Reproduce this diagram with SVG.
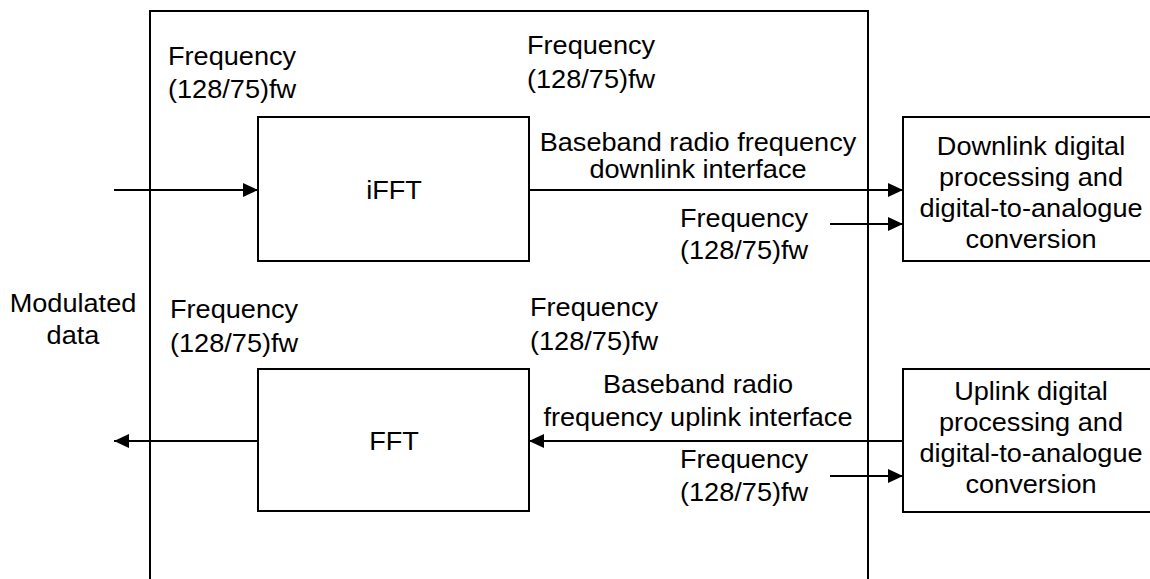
<svg xmlns="http://www.w3.org/2000/svg" width="1150" height="579" viewBox="0 0 1150 579">
<style>
.box{fill:#fff;stroke:#000;stroke-width:2}
.ln{fill:none;stroke:#000;stroke-width:2}
.t{font-family:"Liberation Sans",Arial,sans-serif;font-size:25px;fill:#000}
.m{text-anchor:middle}
</style>
<defs>
<marker id="ah" markerWidth="15" markerHeight="14" refX="15" refY="7" orient="auto" markerUnits="userSpaceOnUse">
<path d="M0,0 L15,7 L0,14 Z" fill="#000"/>
</marker>
</defs>
<rect width="1150" height="579" fill="#fff"/>
<g id="frame">
<path class="ln" d="M150,579 V11 H868 V579"/>
</g>
<g id="connectors">
<line class="ln" x1="114" y1="190" x2="258" y2="190" marker-end="url(#ah)"/>
<line class="ln" x1="529" y1="190" x2="903" y2="190" marker-end="url(#ah)"/>
<line class="ln" x1="830" y1="224" x2="903" y2="224" marker-end="url(#ah)"/>
<line class="ln" x1="903" y1="441" x2="529" y2="441" marker-end="url(#ah)"/>
<line class="ln" x1="830" y1="476" x2="903" y2="476" marker-end="url(#ah)"/>
<line class="ln" x1="258" y1="441" x2="114" y2="441" marker-end="url(#ah)"/>
</g>
<g id="ifft">
<rect class="box" x="258" y="117" width="271" height="144"/>
<text class="t m" transform="translate(394,199) scale(1.085,1)">iFFT</text>
</g>
<g id="fft">
<rect class="box" x="258" y="369" width="271" height="142"/>
<text class="t m" transform="translate(394,450) scale(1.085,1)">FFT</text>
</g>
<g id="downlink">
<rect class="box" x="903" y="117" width="260" height="144"/>
<text class="t m" transform="translate(1031,155) scale(1.085,1)"><tspan x="0" y="0">Downlink digital</tspan><tspan x="0" y="31">processing and</tspan><tspan x="0" y="62">digital-to-analogue</tspan><tspan x="0" y="93">conversion</tspan></text>
</g>
<g id="uplink">
<rect class="box" x="903" y="369" width="260" height="143"/>
<text class="t m" transform="translate(1031,400) scale(1.085,1)"><tspan x="0" y="0">Uplink digital</tspan><tspan x="0" y="31">processing and</tspan><tspan x="0" y="62">digital-to-analogue</tspan><tspan x="0" y="93">conversion</tspan></text>
</g>
<g id="labels">
<text class="t" transform="translate(168,65) scale(1.085,1)"><tspan x="0" y="0">Frequency</tspan><tspan x="0" y="33">(128/75)fw</tspan></text>
<text class="t" transform="translate(527,54) scale(1.085,1)"><tspan x="0" y="0">Frequency</tspan><tspan x="0" y="34">(128/75)fw</tspan></text>
<text class="t m" transform="translate(698,151) scale(1.085,1)"><tspan x="0" y="0">Baseband radio frequency</tspan><tspan x="0" y="27">downlink interface</tspan></text>
<text class="t" transform="translate(680,227) scale(1.085,1)"><tspan x="0" y="0">Frequency</tspan><tspan x="0" y="32">(128/75)fw</tspan></text>
<text class="t m" transform="translate(73,312) scale(1.085,1)"><tspan x="0" y="0">Modulated</tspan><tspan x="0" y="32">data</tspan></text>
<text class="t" transform="translate(170,318) scale(1.085,1)"><tspan x="0" y="0">Frequency</tspan><tspan x="0" y="34">(128/75)fw</tspan></text>
<text class="t" transform="translate(530,316) scale(1.085,1)"><tspan x="0" y="0">Frequency</tspan><tspan x="0" y="34">(128/75)fw</tspan></text>
<text class="t m" transform="translate(698,393) scale(1.085,1)"><tspan x="0" y="0">Baseband radio</tspan><tspan x="0" y="33">frequency uplink interface</tspan></text>
<text class="t" transform="translate(680,468) scale(1.085,1)"><tspan x="0" y="0">Frequency</tspan><tspan x="0" y="33">(128/75)fw</tspan></text>
</g>
</svg>
